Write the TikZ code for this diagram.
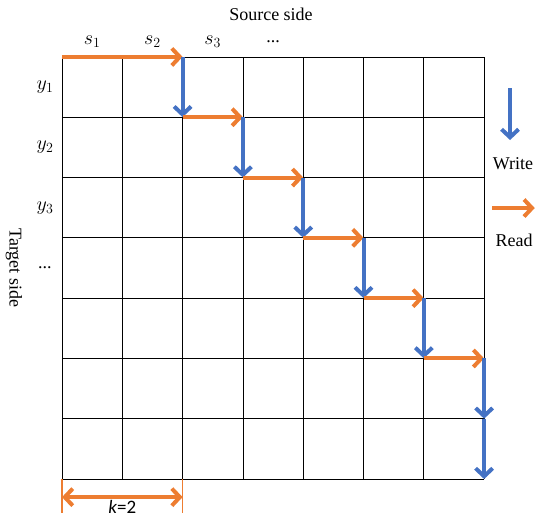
\RequirePackage{fix-cm}
\documentclass[tikz,border=0pt]{standalone}
\usepackage{fontspec}
\setmainfont{Liberation Serif}
\newfontfamily\carlito{Carlito}
\usepackage{amsmath}
\usetikzlibrary{arrows.meta}
\definecolor{rdorange}{HTML}{ED7D31}
\definecolor{wrblue}{HTML}{4472C4}
\tikzset{
	rd/.style={draw=rdorange, line width=4pt, -{Straight Barb[length=8pt,width=17pt]}},
	wr/.style={draw=wrblue, line width=4pt, -{Straight Barb[length=8pt,width=17pt]}},
	kbar/.style={draw=rdorange, line width=1.5pt},
	idx/.style={font=\fontsize{20}{22}\selectfont}
}
\newcommand{\gap}{.\kern0pt.\kern0pt.}
\begin{document}
\begin{tikzpicture}[x=60.3pt, y=60.3pt, font=\fontsize{18}{21}\selectfont]
			\useasboundingbox (-1.028,-0.647) rectangle (7.877,7.944);
			\draw[line width=0.8pt, step={(1,1)}] (0,0) grid (7,7);
			\foreach \i in {0,...,7}
			\foreach \j in {0,...,7}
			\coordinate (g\i\j) at (\i,\j);
			
			% axis texts
			\node (src) at (3.466,7.711) {Source side};
			\node[rotate=-90] (tgt) at (-0.796,3.5) {Target side};
			\foreach \i in {1,2,3}
			\node[idx] (s\i) at (\i-0.5,7.26) {$s_\i$};
			\node (s4) at (3.5,7.247) {\gap};
			\foreach \i in {1,2,3}
			\node[idx] (y\i) at (-0.282,7.5-\i) {$y_\i$};
			\node (y4) at (-0.282,3.5) {\gap};
			
			% read / write path
			\draw[rd] (g07) -- (g27);
			\foreach \i in {2,...,6} {
				\pgfmathtruncatemacro\rowa{9-\i}
				\pgfmathtruncatemacro\rowb{8-\i}
				\pgfmathtruncatemacro\nxt{\i+1}
				\draw[wr] (g\i\rowa) -- (g\i\rowb);
				\draw[rd] (g\i\rowb) -- (g\nxt\rowb);
			}
			\draw[wr] (g72) -- (g71);
			\draw[wr] (g71) -- (g70);
			
			% legend
			\coordinate (wa) at (7.43,6.484);
			\coordinate (wb) at (7.43,5.622);
			\draw[wr] (wa) -- (wb);
			\node (write) at (7.479,5.224) {Write};
			\coordinate (ra) at (7.131,4.494);
			\coordinate (rb) at (7.84,4.494);
			\draw[rd] (ra) -- (rb);
			\node (read) at (7.496,3.963) {Read};
			
			% k
			\coordinate (ka) at (0,-0.564);
			\coordinate (kb) at (2,-0.564);
			\coordinate (kl) at (0,-0.3);
			\coordinate (kr) at (2,-0.3);
			\draw[kbar] (g00) -- (ka);
			\draw[kbar] (g20) -- (kb);
			\draw[rd, {Straight Barb[length=8pt,width=17pt]}-{Straight Barb[length=8pt,width=17pt]}] (kl) -- (kr);
			\node[inner sep=0pt] (k) at (1,-0.47) {{\carlito\fontsize{19}{21}\selectfont\textit{k}=2}};
		\end{tikzpicture}
\end{document}
